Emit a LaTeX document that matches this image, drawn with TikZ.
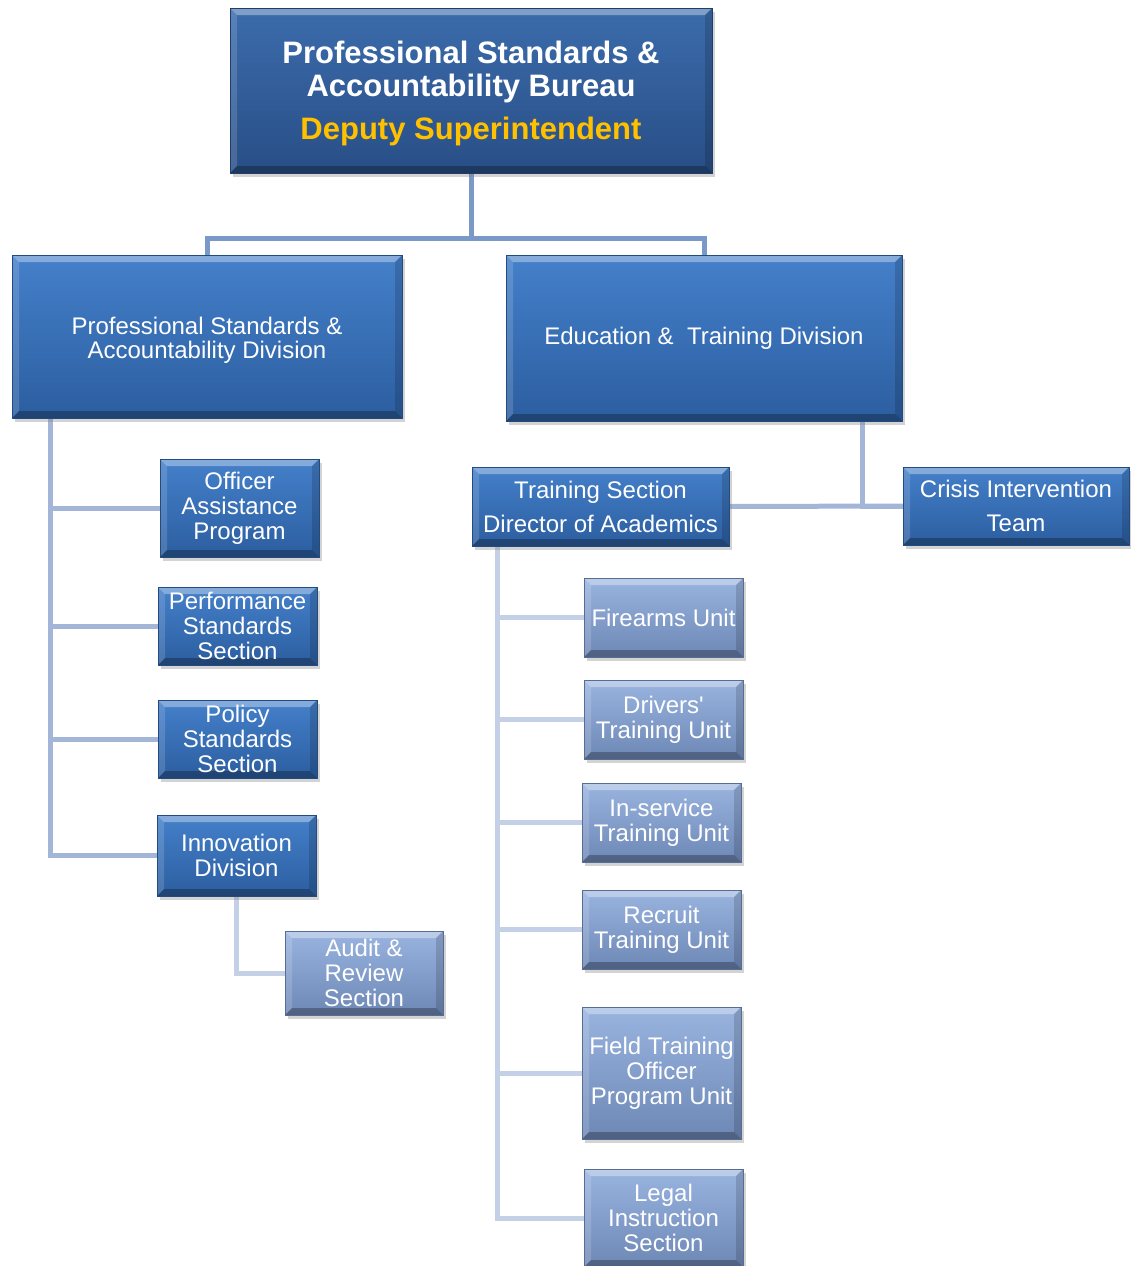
\documentclass[tikz,border=0pt]{standalone}
\usepackage{fontspec}
\setmainfont{Liberation Sans}[Ligatures=TeXOff]
\usetikzlibrary{shadows,backgrounds}
\definecolor{cA}{RGB}{122,153,200}
\definecolor{cB}{RGB}{163,182,216}
\definecolor{cC}{RGB}{196,208,229}
\definecolor{dTop}{RGB}{60,108,172}
\definecolor{dBot}{RGB}{40,78,134}
\definecolor{mTop}{RGB}{68,128,202}
\definecolor{mBot}{RGB}{44,94,160}
\definecolor{lTop}{RGB}{154,180,224}
\definecolor{lBot}{RGB}{110,136,182}
\definecolor{gold}{RGB}{255,192,0}
\newcommand{\bw}{7pt}
\tikzset{
  x=1pt, y=-1pt,
  bev/.style={path picture={
    \fill[white,opacity=.35] (path picture bounding box.north west) -- (path picture bounding box.north east) -- ([xshift=-\bw,yshift=-\bw]path picture bounding box.north east) -- ([xshift=\bw,yshift=-\bw]path picture bounding box.north west) -- cycle;
    \fill[white,opacity=.15] (path picture bounding box.north west) -- ([xshift=\bw,yshift=-\bw]path picture bounding box.north west) -- ([xshift=\bw,yshift=\bw]path picture bounding box.south west) -- (path picture bounding box.south west) -- cycle;
    \fill[black,opacity=.15] (path picture bounding box.north east) -- ([xshift=-\bw,yshift=-\bw]path picture bounding box.north east) -- ([xshift=-\bw,yshift=\bw]path picture bounding box.south east) -- (path picture bounding box.south east) -- cycle;
    \fill[black,opacity=.28] (path picture bounding box.south west) -- (path picture bounding box.south east) -- ([xshift=-\bw,yshift=\bw]path picture bounding box.south east) -- ([xshift=\bw,yshift=\bw]path picture bounding box.south west) -- cycle;
  }},
  box/.style={rectangle, inner sep=0pt, align=center, text=white,
    font=\fontsize{24}{25}\selectfont, bev,
    drop shadow={shadow xshift=3pt, shadow yshift=-4pt, opacity=.35}},
  dbox/.style={box, top color=dTop, bottom color=dBot, draw=dBot!80!black, line width=.8pt},
  mbox/.style={box, top color=mTop, bottom color=mBot, draw=mBot!80!black, line width=.8pt},
  lbox/.style={box, top color=lTop, bottom color=lBot, draw=lBot!80!black, line width=.8pt},
  lnA/.style={draw=cA, line width=5pt},
  lnB/.style={draw=cB, line width=5pt},
  lnC/.style={draw=cC, line width=5pt},
}
\begin{document}
\begin{tikzpicture}
\useasboundingbox (0,0) rectangle (1131,1266);
\coordinate (j1) at (471,238);
\coordinate (lv) at (50,418);
\coordinate (ev) at (862,421);
\coordinate (tv) at (497,546);

\node[dbox, minimum width=482pt, minimum height=165pt, font=\fontsize{31}{33}\selectfont\bfseries] (top) at (471,90.5)
  {\rule{0pt}{29pt}Professional Standards \&\\
   Accountability Bureau\\[10pt]
   \color{gold}Deputy Superintendent};
\node[mbox, minimum width=390pt, minimum height=163pt, font=\fontsize{24}{24}\selectfont] (psad) at (207,336.5)
  {\rule{0pt}{24pt}Professional Standards \&\\Accountability Division};
\node[mbox, minimum width=396pt, minimum height=166pt] (etd) at (704,338)
  {Education \&\ \ Training Division};
\node[mbox, minimum width=159pt, minimum height=98pt] (oap) at (239.5,508)
  {Officer\\Assistance\\Program};
\node[mbox, minimum width=159pt, minimum height=78pt] (pss) at (237.5,626)
  {Performance\\Standards\\Section};
\node[mbox, minimum width=159pt, minimum height=78pt] (pols) at (237.5,739)
  {Policy\\Standards\\Section};
\node[mbox, minimum width=159pt, minimum height=81pt] (inn) at (236.5,855.5)
  {Innovation\\Division};
\node[lbox, minimum width=158pt, minimum height=84pt] (ars) at (364,973)
  {Audit \&\\Review\\Section};
\node[mbox, minimum width=257pt, minimum height=79pt, font=\fontsize{24}{34}\selectfont] (tsda) at (600.5,506.5)
  {Training Section\\Director of Academics};
\node[mbox, minimum width=226pt, minimum height=78pt, font=\fontsize{24}{34}\selectfont] (cit) at (1016,506)
  {Crisis Intervention\\Team};
\node[lbox, minimum width=159pt, minimum height=79pt] (fu) at (663.5,617.5)
  {Firearms Unit};
\node[lbox, minimum width=159pt, minimum height=79pt] (dtu) at (663.5,719.5)
  {Drivers'\\Training Unit};
\node[lbox, minimum width=159pt, minimum height=79pt] (itu) at (661.5,822.5)
  {In-service\\Training Unit};
\node[lbox, minimum width=159pt, minimum height=79pt] (rtu) at (661.5,929.5)
  {Recruit\\Training Unit};
\node[lbox, minimum width=159pt, minimum height=132pt] (ftu) at (661.5,1073)
  {Field Training\\Officer\\Program Unit};
\node[lbox, minimum width=159pt, minimum height=98pt] (lis) at (663.5,1218)
  {Legal\\Instruction\\Section};

\begin{pgfonlayer}{background}
  \draw[lnA] (top.south) -- (j1) -| (psad.north);
  \draw[lnA] (j1) -| (etd.north);
  \draw[lnB] (lv) |- (oap.west);
  \draw[lnB] (lv) |- (pss.west);
  \draw[lnB] (lv) |- (pols.west);
  \draw[lnB] (lv) |- (inn.west);
  \draw[lnC] (inn.south) |- (ars.west);
  \draw[lnB] (ev) |- (cit.west);
  \draw[lnB] (tsda.east) -- (cit.west);
  \draw[lnC] (tv) |- (fu.west);
  \draw[lnC] (tv) |- (dtu.west);
  \draw[lnC] (tv) |- (itu.west);
  \draw[lnC] (tv) |- (rtu.west);
  \draw[lnC] (tv) |- (ftu.west);
  \draw[lnC] (tv) |- (lis.west);
\end{pgfonlayer}
\end{tikzpicture}
\end{document}
